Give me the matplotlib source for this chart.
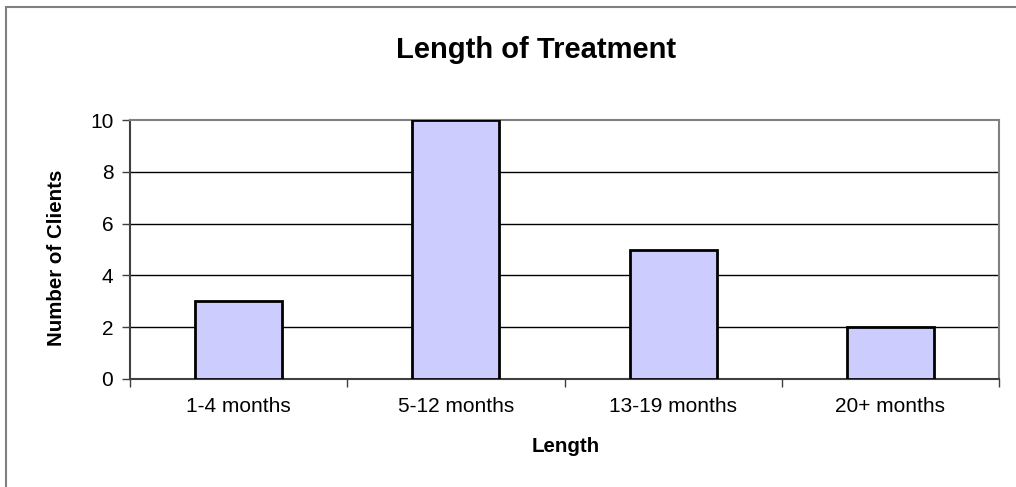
import matplotlib
matplotlib.use('Agg')
import matplotlib.pyplot as plt
from matplotlib.patches import Rectangle

categories = ['1-4 months', '5-12 months', '13-19 months', '20+ months']
clients = [3, 10, 5, 2]
y_ticks = [0, 2, 4, 6, 8, 10]

plt.rcParams['font.family'] = ['Liberation Sans', 'DejaVu Sans']

W, H = 1016, 487
fig = plt.figure(figsize=(W / 100, H / 100), dpi=100)
ax = fig.add_axes([130 / W, 1 - 379 / H, (999 - 130) / W, (379 - 120) / H])

# chart frame, runs off the right and bottom edges
fig.patches.append(Rectangle((6 / W, -0.1), 1.2, 1 - 7 / H + 0.1, transform=fig.transFigure,
                             fill=False, edgecolor='#808080', linewidth=1.5))

x = list(range(len(categories)))
ax.bar(x, clients, width=0.4, color='#CCCCFF', edgecolor='black', linewidth=2, zorder=3)

ax.set_xlim(-0.5, len(categories) - 0.5)
ax.set_ylim(0, 10)
ax.set_yticks(y_ticks)
ax.set_xticks(x)
ax.set_xticklabels(categories)
ax.set_xticks([i - 0.5 for i in range(len(categories) + 1)], minor=True)
ax.tick_params(axis='x', which='major', length=0, pad=13, labelsize=15)
ax.tick_params(axis='x', which='minor', length=6, width=1, color='#404040', direction='out')
ax.tick_params(axis='y', length=6, width=1, color='#404040', direction='out', labelsize=15, pad=6)

for v in y_ticks[1:-1]:
    ax.axhline(v, color='black', linewidth=1, zorder=1)

ax.spines['top'].set_color('#808080')
ax.spines['top'].set_linewidth(1.5)
ax.spines['right'].set_color('#808080')
ax.spines['right'].set_linewidth(1.5)
ax.spines['left'].set_color('#404040')
ax.spines['bottom'].set_color('#404040')
ax.spines['left'].set_linewidth(1.5)
ax.spines['bottom'].set_linewidth(1.5)

fig.text(536 / W, 1 - 50 / H, 'Length of Treatment', ha='center', va='center',
         fontsize=21, fontweight='bold')
fig.text(566 / W, 1 - 446 / H, 'Length', ha='center', va='center',
         fontsize=14.8, fontweight='bold')
fig.text(57 / W, 1 - 258 / H, 'Number of Clients', ha='center', va='center',
         rotation=90, fontsize=14.8, fontweight='bold')

fig.savefig('out.png', dpi=100)
